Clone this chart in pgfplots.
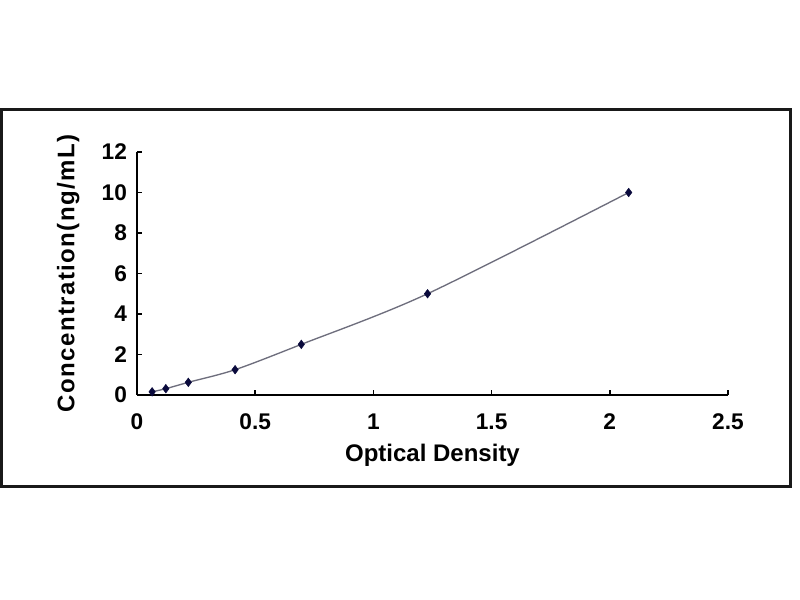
\documentclass[border=0pt]{standalone}
\usepackage{pgfplots}
\pgfplotsset{compat=1.18}
\usepackage{fontspec}
\setmainfont{Liberation Sans}
\definecolor{marknavy}{RGB}{10,10,60}
\definecolor{curvegray}{RGB}{110,110,125}
\begin{document}
\begin{tikzpicture}[x=1pt,y=1pt]
\useasboundingbox (0,0) rectangle (600,450);
\fill[white] (0,0) rectangle (600,450);
\draw[line width=2.25pt,black!90] (1.125,85.125) rectangle (592.5,367.5);
\begin{axis}[
  at={(102.75pt,153.75pt)}, anchor=south west,
  scale only axis, width=443.25pt, height=182.25pt,
  xmin=0, xmax=2.5, ymin=0, ymax=12,
  axis lines*=left,
  axis line style={line width=1.3pt, black},
  xtick={0,0.5,1,1.5,2,2.5},
  ytick={0,2,4,6,8,10,12},
  xticklabels={0,0.5,1,1.5,2,2.5},
  yticklabels={0,2,4,6,8,10,12},
  tick align=inside,
  major tick length=4pt,
  tick style={line width=1.1pt, black},
  ticklabel style={font=\bfseries\fontsize{17}{20}\selectfont},
  xticklabel style={yshift=-10.5pt},
  yticklabel style={xshift=-4pt},
  xlabel={Optical Density},
  ylabel={\addfontfeatures{LetterSpace=6}Concentration(ng/mL)},
  xlabel style={font=\bfseries\fontsize{18}{21}\selectfont, at={(axis description cs:0.5,0)}, anchor=base, yshift=-50.25pt},
  ylabel style={font=\bfseries\fontsize{18}{21}\selectfont, at={(axis description cs:0,0.5)}, anchor=center, yshift=51.5pt},
  clip=false,
]
\addplot[curvegray, line width=1pt, smooth, tension=0.5, no marks] coordinates {
 (0.064,0.156) (0.122,0.3125) (0.217,0.625) (0.415,1.25) (0.695,2.5) (1.229,5) (2.08,10)
};
\addplot[only marks, mark=diamond*, mark size=3.2pt, color=marknavy] coordinates {
 (0.064,0.156) (0.122,0.3125) (0.217,0.625) (0.415,1.25) (0.695,2.5) (1.229,5) (2.08,10)
};
\end{axis}
\end{tikzpicture}
\end{document}
